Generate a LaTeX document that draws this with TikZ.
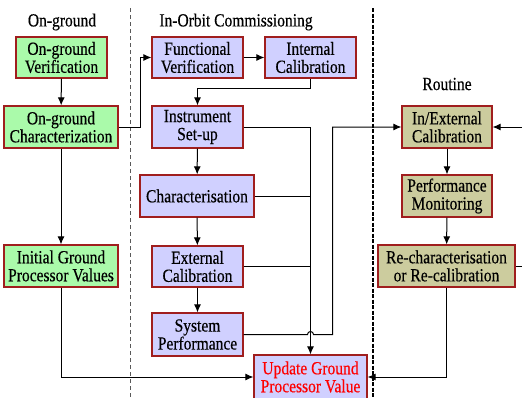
\documentclass[tikz,border=0pt]{standalone}
\usepackage{fontspec}
\setmainfont{Liberation Serif}[FakeStretch=0.84, FakeBold=0.4]
\usepackage{tikz}
\usetikzlibrary{arrows.meta}

\definecolor{grnfill}{RGB}{170,250,170}
\definecolor{prpfill}{RGB}{208,208,255}
\definecolor{tanfill}{RGB}{204,204,158}
\definecolor{boxedge}{RGB}{160,30,30}

\tikzset{
	box/.style={draw=boxedge, line width=1.2pt, align=center, inner sep=1pt,
		font=\fontsize{18.5}{18}\selectfont},
	grnbox/.style={box, fill=grnfill},
	prpbox/.style={box, fill=prpfill},
	tanbox/.style={box, fill=tanfill},
	title/.style={font=\fontsize{18.5}{18}\selectfont},
	arr/.style={line width=1pt, -{Latex[length=8pt,width=7pt]}},
	wire/.style={line width=1pt}
}

\begin{document}
\begin{tikzpicture}[x=1pt, y=-1pt]
	\useasboundingbox (0,0) rectangle (522,397);
	\clip (0,0) rectangle (522,397);

	% phase separators
	\draw [gray!70!black, line width=1pt, dash pattern=on 4pt off 3pt] (130,8) -- (130,397);
	\draw [line width=1.8pt, dash pattern=on 4pt off 1.5pt] (373,8) -- (373,397);

	\node[title] (ongrd) at (62,22) {On-ground};
	\node[title] (inorbit) at (236,22) {In-Orbit Commissioning};
	\node[title] (routine) at (447,84) {Routine};

	% on-ground
	\node[grnbox, minimum width=91pt, minimum height=41pt] (ogver) at (61.5,57.5) {On-ground\\Verification};
	\node[grnbox, minimum width=114pt, minimum height=42pt] (ogchar) at (61,127) {On-ground\\Characterization};
	\node[grnbox, minimum width=114pt, minimum height=42pt] (igpv) at (61,266) {Initial Ground\\Processor Values};

	% in-orbit commissioning
	\node[prpbox, minimum width=91pt, minimum height=41pt] (funcver) at (197.5,57.5) {Functional\\Verification};
	\node[prpbox, minimum width=91pt, minimum height=41pt] (intcal) at (310.5,57.5) {Internal\\Calibration};
	\node[prpbox, minimum width=91pt, minimum height=42pt] (instsetup) at (197.5,127) {Instrument\\Set-up};
	\node[prpbox, minimum width=114pt, minimum height=42pt] (charac) at (197,196) {Characterisation};
	\node[prpbox, minimum width=91pt, minimum height=41pt] (extcal) at (197.5,266.5) {External\\Calibration};
	\node[prpbox, minimum width=91pt, minimum height=43pt] (sysperf) at (197.5,334.5) {System\\Performance};
	\node[prpbox, minimum width=113pt, minimum height=44pt] (update) at (310.5,377) {\color{red}Update Ground\\\color{red}Processor Value};

	% routine
	\node[tanbox, minimum width=90pt, minimum height=42pt] (inextcal) at (447,127) {In/External\\Calibration};
	\node[tanbox, minimum width=90pt, minimum height=42pt] (perfmon) at (447,196) {Performance\\Monitoring};
	\node[tanbox, minimum width=137pt, minimum height=42pt] (rechar) at (446.5,266) {Re-characterisation\\or Re-calibration};

	\draw [arr] (ogver) -- (ogchar);
	\draw [arr] (ogchar) -- (igpv);
	\draw [arr] (ogchar.east) -- ++(22,0) |- (funcver.west);
	\draw [arr] (igpv.south) |- (update.west);

	\draw [arr] (funcver) -- (intcal);
	\draw [arr] (intcal.south) -- ++(0,10) -| (instsetup.north);
	\draw [arr] (instsetup) -- (charac);
	\draw [arr] (charac) -- (extcal);
	\draw [arr] (extcal) -- (sysperf);

	\draw [arr] (instsetup.east) -| (update.north);
	\draw [wire] (charac.east) -- (charac.east -| update.north);
	\draw [wire] (extcal.east) -- (extcal.east -| update.north);
	\draw [arr] (sysperf.east) -- ([xshift=-3pt]sysperf.east -| update.north)
		arc[start angle=180, end angle=0, radius=3pt] -- ++(19,0) |- (inextcal.west);

	\draw [arr] (inextcal) -- (perfmon);
	\draw [arr] (perfmon) -- (rechar);
	\draw [arr] (rechar.east) -- ++(20,0) |- (inextcal.east);
	\draw [arr] (rechar.south) |- (update.east);
\end{tikzpicture}
\end{document}
